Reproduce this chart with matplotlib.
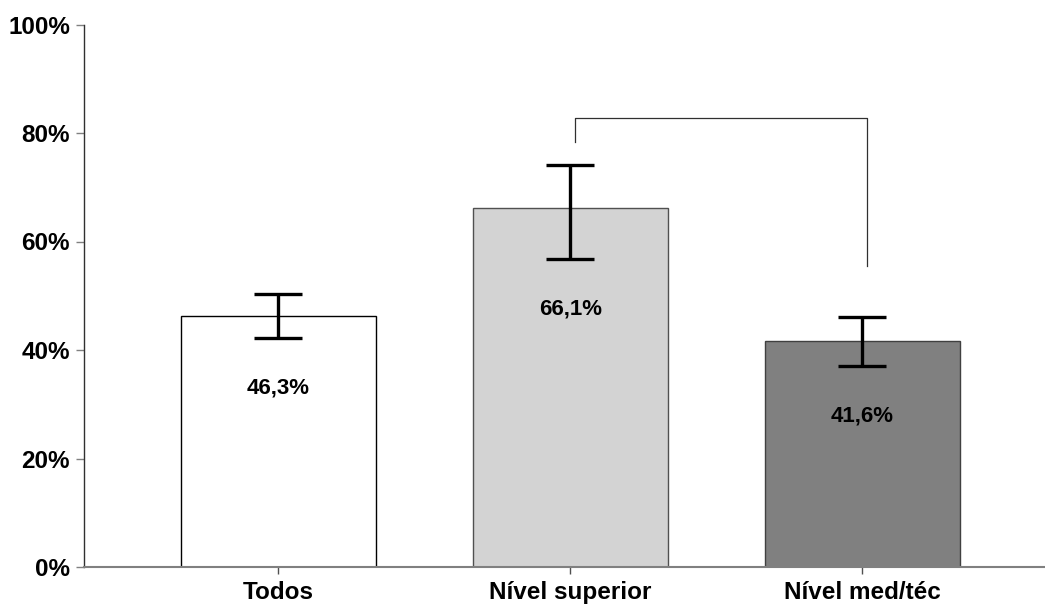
import matplotlib.pyplot as plt

plt.rcParams['font.family'] = ['Liberation Sans', 'DejaVu Sans']

# Proportions (%) with 95% CI bounds
categories = ["Todos", "Nível superior", "Nível med/téc"]
values = [46.3, 66.1, 41.6]
ci_low = [42.2, 56.8, 37.1]
ci_high = [50.3, 74.1, 46.0]
bar_colors = ["white", "#d3d3d3", "#808080"]
edge_colors = ["black", "#505050", "#404040"]

# significance bracket between groups 1 and 2
bracket_pair = (1, 2)
bracket_top = 82.8
bracket_legs = (78.4, 55.5)

fig = plt.figure(figsize=(10.45, 6.1), dpi=100)
ax = fig.add_axes([84 / 1045, 43 / 610, 961 / 1045, 542.5 / 610])

x = list(range(len(categories)))
ax.bar(x, values, width=0.668, color=bar_colors, edgecolor=edge_colors,
       linewidth=1.0, zorder=2)

err_lo = [v - lo for v, lo in zip(values, ci_low)]
err_hi = [hi - v for v, hi in zip(values, ci_high)]
ax.errorbar(x, values, yerr=[err_lo, err_hi], fmt='none', ecolor='black',
            elinewidth=2.4, capsize=17.5, capthick=2.4, zorder=3)

# value labels under the lower CI bound
for xi, v, lo in zip(x, values, ci_low):
    ax.text(xi, lo - 9.2, f"{v:.1f}%".replace('.', ','), ha='center', va='center',
            fontsize=16, fontweight='bold', zorder=4)

# bracket
i, j = bracket_pair
off = 0.017
ax.plot([i + off, i + off, j + off, j + off],
        [bracket_legs[0], bracket_top, bracket_top, bracket_legs[1]],
        color='#303030', linewidth=0.9, zorder=3)

ax.set_xlim(-0.666, 2.625)
ax.set_ylim(0, 100)
ax.set_yticks([0, 20, 40, 60, 80, 100])
ax.set_yticklabels([f"{t}%" for t in [0, 20, 40, 60, 80, 100]])
ax.set_xticks(x)
ax.set_xticklabels(categories)

for s in ['top', 'right']:
    ax.spines[s].set_visible(False)
ax.spines['left'].set_color('#303030')
ax.spines['left'].set_linewidth(1.0)
ax.spines['bottom'].set_color('#808080')
ax.spines['bottom'].set_linewidth(1.5)

ax.tick_params(axis='y', length=6, width=1, color='#808080', pad=4,
               labelsize=17.5)
ax.tick_params(axis='x', length=5, width=1, color='#505050', pad=5,
               labelsize=17.5)
for lbl in ax.get_xticklabels() + ax.get_yticklabels():
    lbl.set_fontweight('bold')

fig.savefig("out.png", dpi=100)
